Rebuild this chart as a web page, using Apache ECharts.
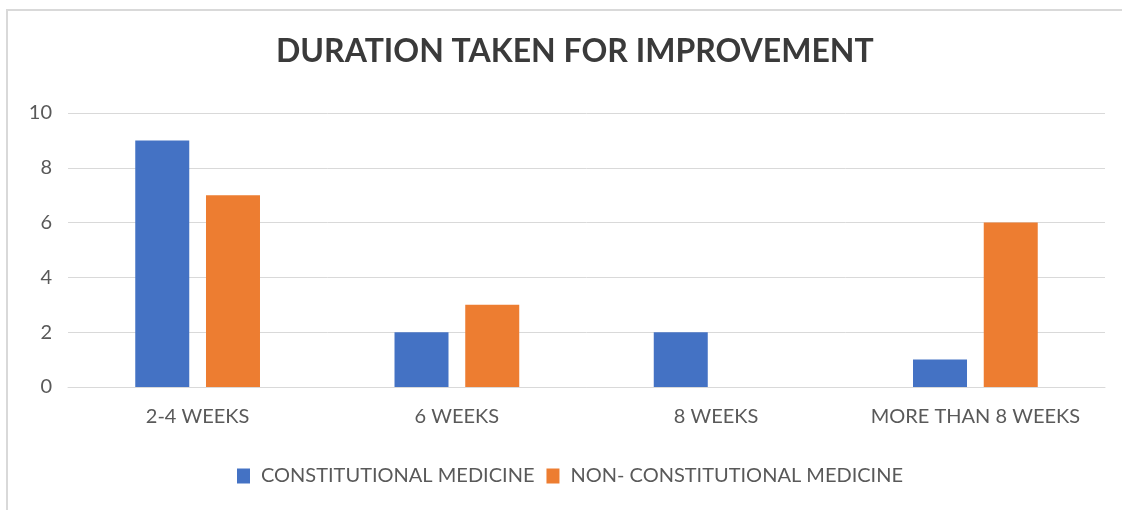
<!DOCTYPE html>
<html><head><meta charset="utf-8">
<script src="https://cdn.jsdelivr.net/npm/echarts@6/dist/echarts.min.js"></script>
<style>html,body{margin:0;padding:0;background:#fff}#c{width:1122px;height:510px}</style>
</head><body><div id="c"></div>
<script>
const categories = ['2-4 WEEKS', '6 WEEKS', '8 WEEKS', 'MORE THAN 8 WEEKS'];
const constitutional = [9, 2, 2, 1];
const nonConstitutional = [7, 3, 0, 6];
const seriesNames = ['CONSTITUTIONAL MEDICINE', 'NON- CONSTITUTIONAL MEDICINE'];
const yTicks = {min: 0, max: 10, interval: 2};

const chart = echarts.init(document.getElementById('c'), null, {renderer: 'canvas'});
const font = 'Lato, "Open Sans", sans-serif';
chart.setOption({
  animation: false,
  backgroundColor: '#fff',
  graphic: [{
    type: 'rect', shape: {x: 7, y: 10, width: 1130, height: 520},
    style: {fill: 'none', stroke: '#d9d9d9', lineWidth: 2}, silent: true
  }],
  title: {
    text: 'DURATION TAKEN FOR IMPROVEMENT', left: 271, top: 31,
    textStyle: {fontFamily: font, fontSize: 32, fontWeight: 'bold', color: '#3a3a3a'}
  },
  legend: {
    data: seriesNames, top: 461, left: 232, itemWidth: 13, itemHeight: 15, itemGap: 12,
    icon: 'rect',
    textStyle: {fontFamily: font, fontSize: 20, color: '#595959', padding: [0, 0, 0, 6]}
  },
  grid: {left: 68, right: 17, top: 113, bottom: 123, containLabel: false},
  xAxis: {
    type: 'category', data: categories,
    axisLine: {lineStyle: {color: '#d9d9d9', width: 1}},
    axisTick: {show: false},
    axisLabel: {fontFamily: font, fontSize: 20, color: '#595959', margin: 20, interval: 0}
  },
  yAxis: {
    type: 'value', min: yTicks.min, max: yTicks.max, interval: yTicks.interval,
    axisLine: {show: false}, axisTick: {show: false},
    splitLine: {lineStyle: {color: '#d9d9d9', width: 1}},
    axisLabel: {fontFamily: font, fontSize: 20, color: '#595959', margin: 16}
  },
  series: [
    {name: seriesNames[0], type: 'bar', data: constitutional, itemStyle: {color: '#4472C4'},
     barWidth: 54, barGap: '31%'},
    {name: seriesNames[1], type: 'bar', data: nonConstitutional, itemStyle: {color: '#ED7D31'},
     barWidth: 54, barGap: '31%'}
  ]
});
</script></body></html>
